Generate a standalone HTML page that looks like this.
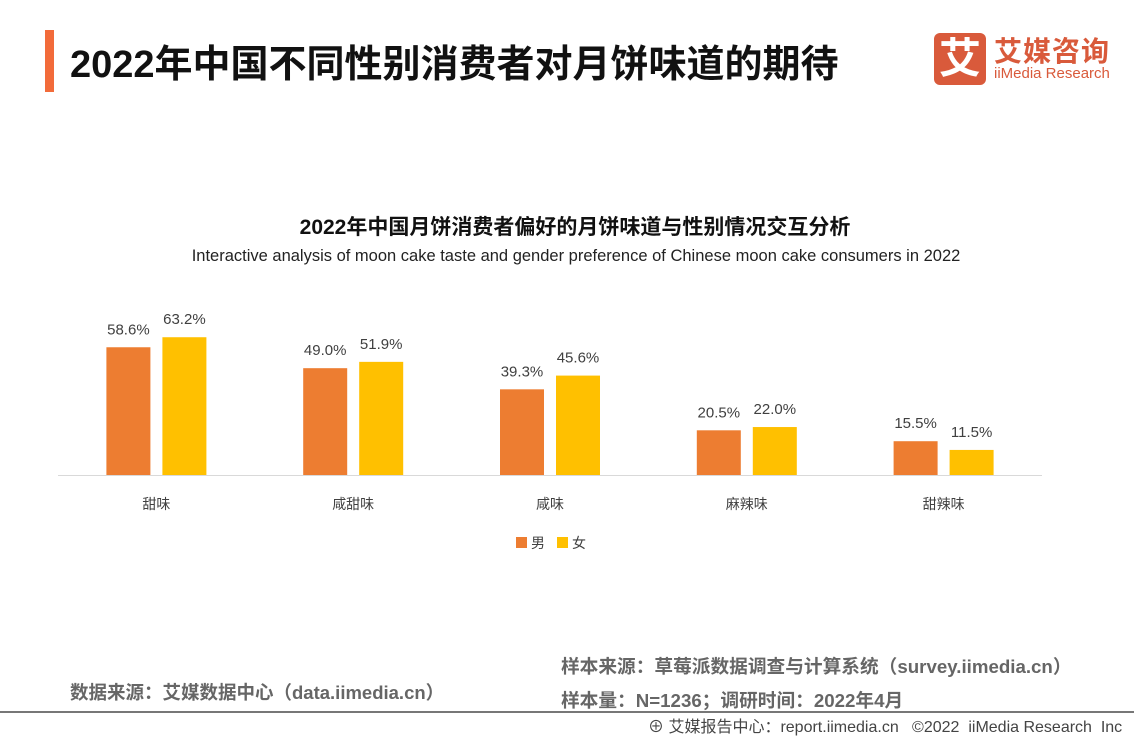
<!DOCTYPE html>
<html><head><meta charset="utf-8"><style>
body{margin:0;width:1134px;height:737px;background:#fff;position:relative;overflow:hidden;font-family:"Liberation Sans","Noto Sans CJK SC",sans-serif}
.abs{position:absolute;white-space:nowrap}
</style></head><body>
<div class="abs" style="left:45px;top:30px;width:9px;height:62px;background:#f26b3a"></div>
<div class="abs" style="left:70px;top:33px;font-size:38px;font-weight:bold;color:#111">2022年中国不同性别消费者对月饼味道的期待</div>
<div class="abs" style="left:934px;top:33px;width:52px;height:52px;background:#d95a3b;border-radius:6px;color:#fff;font-size:42px;font-weight:bold;text-align:center;line-height:52px">艾</div>
<div class="abs" style="left:994px;top:30px;font-size:28px;font-weight:bold;color:#d95a3b;letter-spacing:1px">艾媒咨询</div>
<div class="abs" style="left:994px;top:65px;font-size:15px;color:#d95a3b">iiMedia Research</div>
<div class="abs" style="left:0;width:1150px;text-align:center;top:211px;font-size:21px;font-weight:bold;color:#111">2022年中国月饼消费者偏好的月饼味道与性别情况交互分析</div>
<div class="abs" style="left:0;width:1152px;text-align:center;top:247px;font-size:16.5px;color:#222">Interactive analysis of moon cake taste and gender preference of Chinese moon cake consumers in 2022</div>
<svg class="abs" style="left:0;top:0" width="1134" height="737" id="chart"></svg>
<div class="abs" style="left:70px;top:679px;font-size:18.5px;font-weight:bold;color:#666">数据来源：艾媒数据中心（data.iimedia.cn）</div>
<div class="abs" style="left:561px;top:652px;font-size:18.7px;font-weight:bold;color:#666">样本来源：草莓派数据调查与计算系统（survey.iimedia.cn）</div>
<div class="abs" style="left:561px;top:686px;font-size:18.7px;font-weight:bold;color:#666">样本量：N=1236；调研时间：2022年4月</div>
<div class="abs" style="left:0;top:711px;width:1134px;height:2px;background:#777"></div>
<div class="abs" style="left:648px;top:713px;font-size:16px;color:#444">⊕ 艾媒报告中心：report.iimedia.cn &nbsp; ©2022 &nbsp;iiMedia Research &nbsp;Inc</div>
<script>
const categories=["甜味","咸甜味","咸味","麻辣味","甜辣味"];
const male=[58.6,49.0,39.3,20.5,15.5];
const female=[63.2,51.9,45.6,22.0,11.5];
const seriesNames=["男","女"];
const colors=["#ed7d31","#ffc000"];
const svg=document.getElementById('chart');const NS="http://www.w3.org/2000/svg";
const x0=58,x1=1042,base=475,k=2.18;
const band=(x1-x0)/categories.length;
const xC=i=>x0+band*(i+0.5);
const yS=v=>base-v*k;
function mk(t,a){const e=document.createElementNS(NS,t);for(const n in a)e.setAttribute(n,a[n]);svg.appendChild(e);return e;}
const ax=mk('line',{x1:x0,x2:x1,y1:base+0.5,y2:base+0.5,stroke:'#d9d9d9'});


[male,female].forEach((s,si)=>{s.forEach((v,i)=>{
 const x=xC(i)+(si===0?-50:6);
 const r=mk('rect',{x:x,y:yS(v),width:44,height:v*k,fill:colors[si]});
 
 
 const t=mk('text',{x:x+22,y:yS(v)-13,'text-anchor':'middle','font-size':15,fill:'#404040'});
 t.textContent=v.toFixed(1)+'%';
 
 
});});
categories.forEach((c,i)=>{const t=mk('text',{x:xC(i),y:509,'text-anchor':'middle','font-size':14,fill:'#404040'});t.textContent=c;
 
 });
seriesNames.forEach((n,i)=>{const lx=516+i*41;
 const r=mk('rect',{x:lx,y:537,width:11,height:11,fill:colors[i]});
 
 
 const t=mk('text',{x:lx+15,y:548,'font-size':14,fill:'#404040'});t.textContent=n;
 
 });
</script>
</body></html>
